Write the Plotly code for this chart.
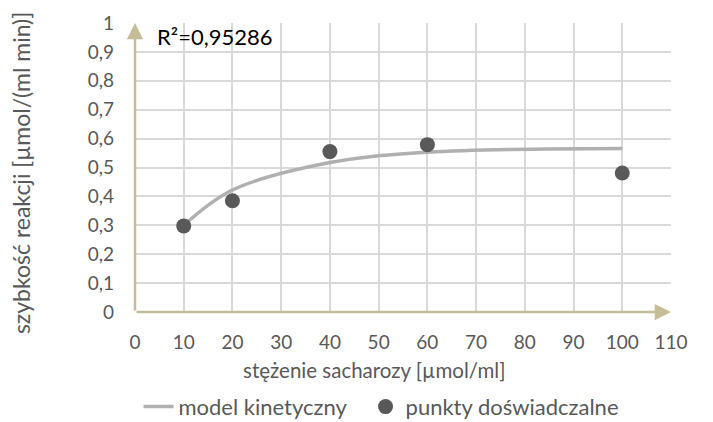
import plotly.graph_objects as go

# data
conc = [10, 20, 40, 60, 100]
rate_exp = [0.298, 0.385, 0.555, 0.579, 0.481]
rate_model = [0.300, 0.422, 0.517, 0.553, 0.566]
x_ticks = [0, 10, 20, 30, 40, 50, 60, 70, 80, 90, 100, 110]
y_ticks = [0, 0.1, 0.2, 0.3, 0.4, 0.5, 0.6, 0.7, 0.8, 0.9, 1]
y_tick_labels = ["0", "0,1", "0,2", "0,3", "0,4", "0,5", "0,6", "0,7", "0,8", "0,9", "1"]
series_names = ["model kinetyczny", "punkty doświadczalne"]
r2_text = "R²=0,95286"
x_title = "stężenie sacharozy [µmol/ml]"
y_title = "szybkość reakcji [µmol/(ml min)]"

FONT = "Lato"
TXT = "#595959"
AXC = "#C4BD97"
GRID = "#D9D9D9"

fig = go.Figure()
fig.add_trace(go.Scatter(
    x=conc, y=rate_model, mode="lines", name=series_names[0] + "\u2002\u2009",
    line=dict(color="#B0B0B0", width=3.5, shape="spline", smoothing=1.0),
))
fig.add_trace(go.Scatter(
    x=conc, y=rate_exp, mode="markers", name=series_names[1],
    marker=dict(color="#595959", size=15, line=dict(width=0)),
))

# axis arrows
fig.add_annotation(x=110, y=0, ax=0, ay=0, xref="x", yref="y", axref="x", ayref="y",
                   showarrow=True, arrowhead=2, arrowsize=1.3, arrowwidth=2.5,
                   arrowcolor=AXC, standoff=0, startstandoff=0, text="")
fig.add_annotation(x=0, y=1, ax=0, ay=0, xref="x", yref="y", axref="x", ayref="y",
                   showarrow=True, arrowhead=2, arrowsize=1.3, arrowwidth=2.5,
                   arrowcolor=AXC, standoff=0, startstandoff=0, text="")
fig.add_annotation(x=0.038, y=0.955, xref="paper", yref="paper", xanchor="left", yanchor="middle",
                   showarrow=False, text=r2_text, font=dict(family=FONT, size=22, color="#000000"))
# axis titles
fig.add_annotation(x=-0.213, y=0.48, xref="paper", yref="paper", xanchor="center", yanchor="middle",
                   showarrow=False, textangle=-90, text=y_title,
                   font=dict(family=FONT, size=23, color=TXT))
fig.add_annotation(x=0.446, y=-0.2, xref="paper", yref="paper", xanchor="center", yanchor="middle",
                   showarrow=False, text=x_title,
                   font=dict(family=FONT, size=20.5, color=TXT))

fig.update_layout(
    width=713, height=422,
    margin=dict(l=134.5, r=42, t=23, b=110),
    paper_bgcolor="white", plot_bgcolor="white",
    font=dict(family=FONT, size=19, color=TXT),
    showlegend=True,
    legend=dict(orientation="h", xref="paper", x=0.0065, xanchor="left",
                yref="container", y=0.036, yanchor="middle",
                font=dict(family=FONT, size=22, color=TXT)),
)
fig.update_xaxes(
    range=[0, 110], tickvals=x_ticks, ticktext=[str(v) for v in x_ticks],
    showgrid=True, gridcolor=GRID, gridwidth=1.5, zeroline=False, showline=False,
    ticks="", ticklabelstandoff=17, automargin=False,
)
fig.update_yaxes(
    range=[0, 1], tickvals=y_ticks, ticktext=y_tick_labels,
    showgrid=True, gridcolor=GRID, gridwidth=1.5, zeroline=False, showline=False,
    ticks="", ticklabelstandoff=20, automargin=False,
)

fig.write_html("out.html", config={"displayModeBar": False},
               post_script="document.body.style.margin='0';document.body.style.overflow='hidden';")
